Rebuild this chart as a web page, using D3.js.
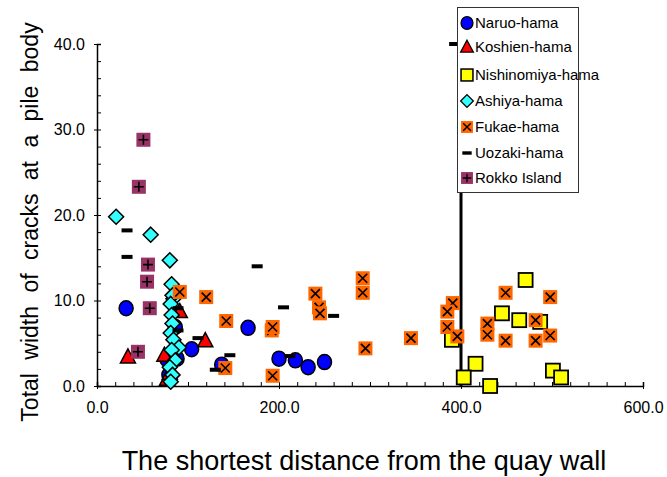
<!DOCTYPE html>
<html>
<head>
<meta charset="utf-8">
<script src="https://cdn.jsdelivr.net/npm/d3@7"></script>
<style>
  body { margin: 0; background: #fff; }
  text { font-family: "Liberation Sans", Arial, sans-serif; fill: #000; }
</style>
</head>
<body>
<svg id="chart" width="667" height="477"></svg>
<script>
// values: [distance, total crack width]
const naruo = [[32, 9.1], [166, 6.8], [104, 4.3], [200, 3.2], [218, 3.0], [232, 2.2],
  [250, 2.8], [137, 2.5], [86, 6.9], [88, 3.2], [77, 3.1], [79, 1.3]];
const koshien = [[34, 3.4], [119, 5.3], [91, 8.7], [77, 0.8], [74, 3.6], [80, 1.5]];
const nishinomiya = [[471, 12.4], [445, 8.5], [464, 7.7], [487, 7.5], [390, 5.4], [416, 2.6],
  [403, 1.0], [432, 0.0], [501, 1.8], [510, 1.0]];
const ashiya = [[21, 19.8], [59, 17.7], [80, 14.7], [82, 11.9], [84, 10.2], [83, 10.6], [81, 9.6],
  [82, 8.3], [83, 7.3], [81, 6.2], [84, 5.4], [90, 4.5], [82, 4.2], [86, 3.0], [80, 2.2],
  [83, 1.3], [81, 0.5]];
const fukae = [[91, 11.0], [120, 10.4], [142, 7.6], [141, 2.1], [192, 6.5], [193, 6.9],
  [193, 1.2], [240, 10.8], [244, 9.2], [245, 8.5], [292, 12.6], [292, 10.9], [295, 4.4],
  [345, 5.6], [391, 9.7], [385, 8.7], [385, 6.9], [396, 5.8], [449, 10.9], [498, 10.4],
  [429, 7.3], [429, 6.0], [449, 5.3], [482, 7.7], [482, 5.3], [498, 5.9]];
const uozaki = [[33, 18.2], [33, 15.1], [176, 14.0], [205, 9.2], [260, 8.2], [146, 3.6],
  [130, 1.9], [212, 3.5], [89, 9.1], [89, 6.5], [111, 5.6], [393, 40.0]];
const rokko = [[51, 28.8], [46, 23.3], [56, 14.2], [55, 12.2], [58, 9.1], [45, 4.0]];

const xTicks = [0, 200, 400, 600];
const yTicks = [0, 10, 20, 30, 40];
const guideX = 400;

const series = [
  { name: "Naruo-hama", data: naruo, shape: "circle", fill: "#0000ff" },
  { name: "Koshien-hama", data: koshien, shape: "triangle", fill: "#ff0000" },
  { name: "Nishinomiya-hama", data: nishinomiya, shape: "square", fill: "#ffff00" },
  { name: "Ashiya-hama", data: ashiya, shape: "diamond", fill: "#33ffff" },
  { name: "Fukae-hama", data: fukae, shape: "cross", fill: "#ff6600" },
  { name: "Uozaki-hama", data: uozaki, shape: "dash", fill: "#000" },
  { name: "Rokko Island", data: rokko, shape: "plus", fill: "#993366" }
];

const svg = d3.select("#chart");
const x = d3.scaleLinear().domain([0, 600]).range([97, 643]);
const y = d3.scaleLinear().domain([0, 40]).range([386, 44]);
const fmt = d3.format(".1f");

// x axis: minor ticks inside, labels below
const gx = svg.append("g").attr("transform", `translate(0,${y(0)})`);
gx.call(d3.axisBottom(x).tickValues(d3.range(0, 601, 20)).tickSize(-4).tickFormat(""))
  .call(g => g.select(".domain").attr("stroke-width", 1.5));
gx.selectAll(".tick line").attr("stroke", "#000");
gx.append("g")
  .call(d3.axisBottom(x).tickValues(xTicks).tickSize(3).tickPadding(13).tickFormat(fmt))
  .call(g => g.select(".domain").remove())
  .call(g => g.selectAll("text").attr("font-size", 16).attr("font-family", "Liberation Sans, Arial"));

// y axis
const gy = svg.append("g").attr("transform", `translate(${x(0)},0)`);
gy.call(d3.axisLeft(y).tickValues(d3.range(0, 41, 2)).tickSize(-4).tickFormat(""))
  .call(g => g.select(".domain").attr("stroke-width", 1.5));
gy.append("g")
  .call(d3.axisLeft(y).tickValues(yTicks).tickSize(3).tickPadding(9).tickFormat(fmt))
  .call(g => g.select(".domain").remove())
  .call(g => g.selectAll("text").attr("font-size", 16).attr("font-family", "Liberation Sans, Arial"));

// vertical guide at 400
svg.append("line")
  .attr("x1", x(guideX)).attr("x2", x(guideX))
  .attr("y1", y(0)).attr("y2", y(40))
  .attr("stroke", "#000").attr("stroke-width", 3);

function drawMarker(g, shape, fill) {
  if (shape === "circle") {
    g.append("ellipse").attr("rx", 7).attr("ry", 7.5)
      .attr("fill", fill).attr("stroke", "#000").attr("stroke-width", 1.5);
  } else if (shape === "triangle") {
    g.append("path").attr("d", "M0,-8L7.5,6L-7.5,6Z")
      .attr("fill", fill).attr("stroke", "#000").attr("stroke-width", 1.5);
  } else if (shape === "square") {
    g.append("rect").attr("x", -7).attr("y", -7).attr("width", 14).attr("height", 14)
      .attr("fill", fill).attr("stroke", "#000").attr("stroke-width", 1.8);
  } else if (shape === "diamond") {
    g.append("path").attr("d", "M0,-7.5L7.5,0L0,7.5L-7.5,0Z")
      .attr("fill", fill).attr("stroke", "#000").attr("stroke-width", 1.5);
  } else if (shape === "cross") {
    g.append("rect").attr("x", -7).attr("y", -7).attr("width", 14).attr("height", 14)
      .attr("fill", fill);
    g.append("path").attr("d", "M-4.5,-4.5L4.5,4.5M4.5,-4.5L-4.5,4.5")
      .attr("stroke", "#000").attr("stroke-width", 1.6);
  } else if (shape === "dash") {
    g.append("rect").attr("x", -5.5).attr("y", -2).attr("width", 11).attr("height", 4)
      .attr("fill", fill);
  } else if (shape === "plus") {
    g.append("rect").attr("x", -7).attr("y", -7).attr("width", 14).attr("height", 14)
      .attr("fill", fill);
    g.append("path").attr("d", "M-5,0L5,0M0,-5L0,5")
      .attr("stroke", "#000").attr("stroke-width", 1.6);
  }
}

// points
series.forEach(s => {
  svg.append("g")
    .selectAll("g")
    .data(s.data)
    .join("g")
    .attr("transform", d => `translate(${x(d[0])},${y(d[1])})`)
    .each(function () { drawMarker(d3.select(this), s.shape, s.fill); });
});

// legend
const legend = svg.append("g");
legend.append("rect")
  .attr("x", 457.5).attr("y", 7.5).attr("width", 121).attr("height", 185)
  .attr("fill", "#fff").attr("stroke", "#333").attr("stroke-width", 1);
const rowsY = [23, 47, 75, 101, 127, 153, 178];
series.forEach((s, i) => {
  const row = legend.append("g").attr("transform", `translate(467,${rowsY[i]})`);
  const m = row.append("g").attr("transform", "scale(0.85)");
  drawMarker(m, s.shape, s.fill);
  row.append("text").attr("x", 8).attr("y", 5)
    .attr("font-size", 15).text(s.name);
});

// axis titles
svg.append("text")
  .attr("transform", `translate(38,222) rotate(-90)`)
  .attr("text-anchor", "middle")
  .attr("font-size", 23)
  .attr("word-spacing", 7)
  .text("Total width of cracks at a pile body");
svg.append("text")
  .attr("x", 364).attr("y", 470)
  .attr("text-anchor", "middle")
  .attr("font-size", 27)
  .text("The shortest distance from the quay wall");
</script>
</body>
</html>
